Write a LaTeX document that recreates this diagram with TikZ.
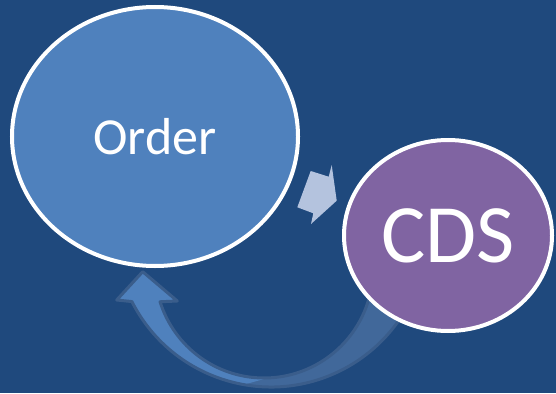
\documentclass[tikz,border=0pt]{standalone}
\usepackage{fontspec}
\setmainfont{Carlito}
\usetikzlibrary{shapes.geometric}
\definecolor{bgblue}{HTML}{1F497D}
\definecolor{orderblue}{HTML}{4F81BD}
\definecolor{cdspurple}{HTML}{8064A2}
\definecolor{chevblue}{HTML}{B4C3DE}
\definecolor{loopedge}{HTML}{3A5D8B}
\definecolor{loopfill}{HTML}{41689A}
\newcommand{\returnpath}{([shift={(153.1:156)}]co) arc[start angle=153.1,end angle=25,radius=156]
  -- ([shift={(0:109)}]ci) arc[start angle=0,end angle=162.5,radius=109]
  -- (177.3,301) -- (142.7,271.7) -- (116.7,300) -- cycle}

\begin{document}
\begin{tikzpicture}[x=1pt,y=-1pt,
  bubble/.style={ellipse,draw=white,line width=4pt,inner sep=0pt,text=white}]
\fill[bgblue] (0,0) rectangle (556,393);
\useasboundingbox (0,0) rectangle (556,393);
\node[bubble,fill=orderblue,minimum width=286pt,minimum height=259pt,
  font=\fontsize{52}{60}\selectfont] (order) at (155,136.5) {Order};
% return arrow, CDS back to Order
\coordinate (co) at (271,231);
\coordinate (ci) at (264,269);
\fill[loopfill] \returnpath;
\fill[orderblue] ([shift={(162.5:109)}]ci) arc[start angle=162.5,end angle=88,radius=109]
  -- ([shift={(100:156)}]co) arc[start angle=100,end angle=153.1,radius=156]
  -- (116.7,300) -- (142.7,271.7) -- (177.3,301) -- cycle;
\draw[loopedge,line width=3pt,line join=round] \returnpath;
% forward arrow, Order to CDS
\fill[chevblue] (310.7,171) -- (328.7,176.7) -- (331.7,165) -- (336.7,200.7)
  -- (311,224) -- (313.3,213.3) -- (297.3,207.3) -- cycle;
\node[bubble,fill=cdspurple,minimum width=208pt,minimum height=191pt,
  font=\fontsize{83}{96}\selectfont] (cds) at (448,235.5) {CDS};
\end{tikzpicture}
\end{document}
